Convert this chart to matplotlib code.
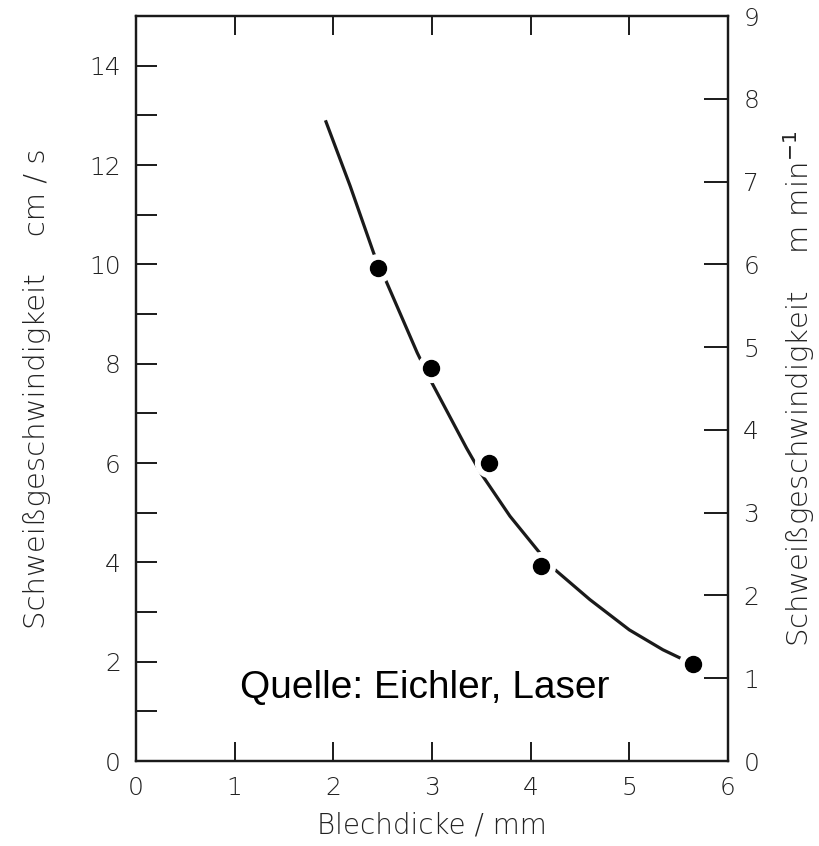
import matplotlib
matplotlib.use("Agg")
import matplotlib.pyplot as plt
from matplotlib.ticker import MultipleLocator

# measured points (Blechdicke mm, speed cm/s)
dicke = [2.45, 2.99, 3.58, 4.10, 5.65]
speed = [9.93, 7.92, 5.99, 3.92, 1.96]

# fitted curve
curve_x = [1.92, 2.17, 2.41, 2.52, 2.85, 3.00, 3.35, 3.50, 3.79, 4.08, 4.23, 4.60, 5.00, 5.34, 5.55]
curve_y = [12.90, 11.58, 10.22, 9.73, 8.22, 7.61, 6.30, 5.78, 4.93, 4.22, 3.88, 3.25, 2.64, 2.24, 2.04]

ink = '#1a1a1a'
grey = '#222222'

fig = plt.figure(figsize=(8.19, 8.46), dpi=100, facecolor='white')
ax = fig.add_axes([136 / 819, 1 - 761 / 846, 592 / 819, 745 / 846])

ax.plot(curve_x, curve_y, color=ink, lw=2.3, zorder=2, solid_capstyle='butt')
ax.plot(dicke, speed, 'o', ms=20, color='white', zorder=3)
ax.plot(dicke, speed, 'o', ms=11.5, color='black', zorder=4)

ax.set_xlim(0, 6)
ax.set_ylim(0, 15)
ax.xaxis.set_major_locator(MultipleLocator(1))
ax.yaxis.set_minor_locator(MultipleLocator(1))
ax.set_yticks([0, 2, 4, 6, 8, 10, 12, 14])

ax.tick_params(axis='x', which='both', direction='in', top=True, length=14, width=1.4,
               color=ink, pad=11, labelsize=18, labelcolor=grey)
ax.tick_params(axis='y', which='both', direction='in', right=False, length=15, width=1.4,
               color=ink, pad=11, labelsize=18, labelcolor=grey)
for s in ax.spines.values():
    s.set_linewidth(1.6)
    s.set_color(ink)

ax2 = ax.twinx()
ax2.set_ylim(0, 9)
ax2.set_yticks(range(0, 10))
ax2.tick_params(axis='y', direction='in', length=17, width=1.4, color=ink, pad=11,
                labelsize=18, labelcolor=grey)
for s in ax2.spines.values():
    s.set_linewidth(1.6)
    s.set_color(ink)

for a in (ax, ax2):
    for lbl in a.get_xticklabels() + a.get_yticklabels():
        lbl.set_family('DejaVu Sans')
        lbl.set_fontweight('light')

ax.set_xlabel('Blechdicke / mm', fontsize=20, color=grey, labelpad=8, fontweight='light')
ax.set_ylabel('Schweißgeschwindigkeit    cm / s', fontsize=21, color=grey, labelpad=27,
              fontweight='light')
ax2.set_ylabel('Schweißgeschwindigkeit    m min$^{-1}$', fontsize=21, color=grey, labelpad=16,
               fontweight='light')

ax.text(1.05, 1.27, 'Quelle: Eichler, Laser', fontsize=28, family='Liberation Sans',
        color='black', va='baseline', ha='left', zorder=5)

fig.savefig('out.png', dpi=100, facecolor='white')
